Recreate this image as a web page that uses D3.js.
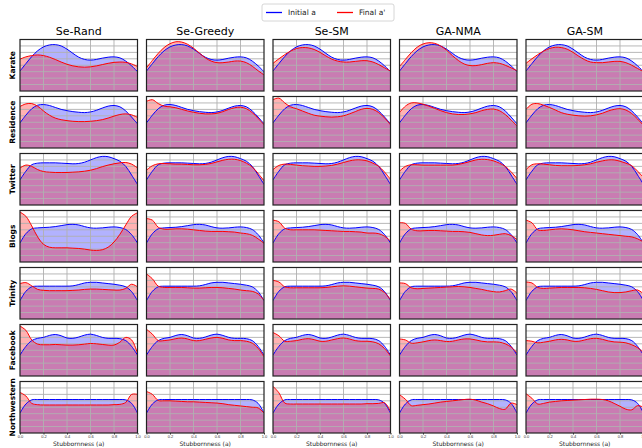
<!DOCTYPE html>
<html>
<head>
<meta charset="utf-8">
<script src="https://cdn.jsdelivr.net/npm/d3@7"></script>
<style>
  body { margin: 0; background: #fff; }
  svg { display: block; font-family: "DejaVu Sans", sans-serif; }
</style>
</head>
<body>
<div id="chart"></div>
<script>
// stubbornness grid the densities are sampled on
var xGrid = [0, 0.05, 0.1, 0.15, 0.2, 0.25, 0.3, 0.35, 0.4, 0.45, 0.5,
             0.55, 0.6, 0.65, 0.7, 0.75, 0.8, 0.85, 0.9, 0.95, 1.0];

var methods = ['Se-Rand', 'Se-Greedy', 'Se-SM', 'GA-NMA', 'GA-SM'];
var datasets = ['Karate', 'Residence', 'Twitter', 'Blogs', 'Trinity', 'Facebook', 'Northwestern'];
var xTicks = [0, 0.2, 0.4, 0.6, 0.8, 1.0];
var yGrid = [0.2, 0.4, 0.6, 0.8, 1.0, 1.2, 1.4];

// initial density per dataset
var karateInitial = [0.62, 0.85, 1.07, 1.25, 1.37, 1.43, 1.44, 1.4, 1.3, 1.17, 1.05, 0.98, 0.96, 0.98, 1.02, 1.05, 1.06, 1.03, 0.93, 0.78, 0.6];
var residenceInitial = [0.78, 1.02, 1.22, 1.33, 1.35, 1.32, 1.26, 1.2, 1.16, 1.13, 1.11, 1.1, 1.12, 1.17, 1.24, 1.3, 1.32, 1.28, 1.15, 0.96, 0.75];
var twitterInitial = [0.78, 1.05, 1.25, 1.3, 1.31, 1.31, 1.31, 1.3, 1.29, 1.28, 1.29, 1.33, 1.4, 1.47, 1.51, 1.5, 1.44, 1.36, 1.2, 0.93, 0.64];
var blogsInitial = [0.59, 0.88, 1.03, 1.06, 1.07, 1.08, 1.1, 1.13, 1.16, 1.17, 1.15, 1.1, 1.06, 1.05, 1.06, 1.08, 1.09, 1.07, 1.01, 0.85, 0.59];
var trinityInitial = [0.57, 0.86, 1.0, 1.02, 1.02, 1.02, 1.02, 1.02, 1.02, 1.03, 1.07, 1.12, 1.14, 1.14, 1.12, 1.1, 1.08, 1.05, 1.0, 0.85, 0.57];
var facebookInitial = [0.65, 0.92, 1.1, 1.17, 1.2, 1.26, 1.29, 1.25, 1.18, 1.17, 1.21, 1.27, 1.3, 1.26, 1.2, 1.17, 1.17, 1.16, 1.1, 0.92, 0.65];
var northwesternInitial = [0.62, 0.9, 1.03, 1.04, 1.04, 1.04, 1.04, 1.04, 1.04, 1.04, 1.04, 1.04, 1.04, 1.04, 1.04, 1.04, 1.04, 1.04, 1.03, 0.92, 0.62];

// final density per dataset, one list per method
var karateFinal = [
  [0.99, 1.06, 1.1, 1.12, 1.1, 1.05, 0.98, 0.9, 0.83, 0.78, 0.75, 0.74, 0.75, 0.78, 0.82, 0.86, 0.89, 0.9, 0.89, 0.84, 0.76],
  [0.72, 0.95, 1.17, 1.35, 1.47, 1.53, 1.52, 1.45, 1.33, 1.18, 1.03, 0.93, 0.88, 0.88, 0.9, 0.93, 0.93, 0.88, 0.77, 0.63, 0.5],
  [0.86, 1.0, 1.13, 1.24, 1.32, 1.35, 1.34, 1.29, 1.2, 1.09, 0.99, 0.93, 0.9, 0.9, 0.92, 0.94, 0.94, 0.9, 0.82, 0.72, 0.62],
  [0.76, 0.98, 1.19, 1.36, 1.46, 1.5, 1.48, 1.4, 1.27, 1.1, 0.95, 0.84, 0.79, 0.79, 0.82, 0.86, 0.88, 0.86, 0.8, 0.72, 0.63],
  [0.86, 1.0, 1.13, 1.24, 1.32, 1.36, 1.35, 1.3, 1.2, 1.08, 0.97, 0.9, 0.88, 0.88, 0.9, 0.92, 0.92, 0.88, 0.8, 0.7, 0.6]
];
var residenceFinal = [
  [1.29, 1.37, 1.38, 1.3, 1.15, 1.02, 0.93, 0.88, 0.85, 0.83, 0.82, 0.82, 0.83, 0.85, 0.88, 0.93, 0.99, 1.04, 1.06, 1.03, 0.95],
  [1.45, 1.5, 1.38, 1.3, 1.28, 1.25, 1.2, 1.15, 1.11, 1.08, 1.06, 1.06, 1.08, 1.13, 1.2, 1.25, 1.27, 1.22, 1.1, 0.92, 0.72],
  [1.5, 1.55, 1.4, 1.28, 1.22, 1.15, 1.08, 1.02, 0.99, 0.97, 0.96, 0.97, 1.0, 1.06, 1.13, 1.2, 1.23, 1.2, 1.1, 0.93, 0.72],
  [1.1, 1.3, 1.4, 1.4, 1.36, 1.3, 1.23, 1.16, 1.1, 1.06, 1.04, 1.04, 1.06, 1.1, 1.16, 1.2, 1.21, 1.16, 1.04, 0.87, 0.68],
  [1.2, 1.36, 1.38, 1.33, 1.26, 1.18, 1.1, 1.05, 1.02, 1.0, 0.99, 1.0, 1.03, 1.08, 1.15, 1.2, 1.22, 1.18, 1.07, 0.9, 0.7]
];
var twitterFinal = [
  [1.15, 1.24, 1.2, 1.1, 1.04, 1.02, 1.01, 1.01, 1.01, 1.02, 1.03, 1.05, 1.08, 1.13, 1.19, 1.24, 1.28, 1.31, 1.32, 1.27, 1.15],
  [1.08, 1.22, 1.28, 1.29, 1.28, 1.27, 1.27, 1.26, 1.25, 1.25, 1.26, 1.29, 1.34, 1.39, 1.42, 1.42, 1.38, 1.3, 1.18, 0.98, 0.75],
  [1.1, 1.23, 1.27, 1.26, 1.24, 1.22, 1.21, 1.2, 1.2, 1.21, 1.23, 1.27, 1.32, 1.37, 1.4, 1.4, 1.37, 1.3, 1.2, 1.02, 0.8],
  [1.05, 1.2, 1.25, 1.25, 1.24, 1.24, 1.24, 1.24, 1.24, 1.24, 1.26, 1.3, 1.35, 1.4, 1.42, 1.41, 1.37, 1.3, 1.2, 1.03, 0.82],
  [1.1, 1.25, 1.28, 1.27, 1.25, 1.23, 1.22, 1.22, 1.22, 1.23, 1.25, 1.28, 1.33, 1.37, 1.4, 1.4, 1.36, 1.3, 1.22, 1.05, 0.85]
];
var blogsFinal = [
  [1.55, 1.42, 1.12, 0.78, 0.55, 0.46, 0.44, 0.44, 0.44, 0.43, 0.42, 0.4, 0.37, 0.36, 0.38, 0.46, 0.62, 0.86, 1.15, 1.42, 1.53],
  [1.35, 1.3, 1.08, 1.02, 1.02, 1.03, 1.03, 1.02, 1.0, 0.98, 0.96, 0.95, 0.95, 0.95, 0.94, 0.93, 0.9, 0.88, 0.83, 0.72, 0.58],
  [1.3, 1.25, 1.05, 1.0, 1.0, 1.0, 1.0, 1.0, 0.99, 0.98, 0.97, 0.96, 0.95, 0.95, 0.94, 0.93, 0.9, 0.9, 0.88, 0.8, 0.65],
  [1.22, 1.2, 1.02, 0.97, 0.97, 0.98, 0.98, 0.97, 0.96, 0.95, 0.95, 0.94, 0.92, 0.88, 0.84, 0.82, 0.83, 0.86, 0.88, 0.82, 0.7],
  [1.3, 1.22, 1.0, 0.98, 1.0, 1.02, 1.03, 1.02, 1.0, 0.97, 0.94, 0.92, 0.9, 0.88, 0.86, 0.84, 0.82, 0.8, 0.78, 0.72, 0.62]
];
var trinityFinal = [
  [1.1, 1.13, 1.03, 0.92, 0.89, 0.88, 0.88, 0.88, 0.88, 0.89, 0.9, 0.92, 0.93, 0.93, 0.92, 0.91, 0.9, 0.9, 0.95, 1.08, 1.0],
  [1.4, 1.25, 1.02, 0.98, 0.98, 0.98, 0.98, 0.97, 0.96, 0.96, 0.97, 0.98, 0.98, 0.97, 0.95, 0.93, 0.9, 0.88, 0.86, 0.78, 0.58],
  [1.2, 1.15, 1.0, 0.97, 0.97, 0.97, 0.97, 0.97, 0.97, 0.98, 1.0, 1.02, 1.03, 1.02, 1.0, 0.98, 0.96, 0.95, 0.93, 0.82, 0.6],
  [1.12, 1.1, 0.97, 0.94, 0.95, 0.96, 0.97, 0.98, 0.99, 1.0, 1.01, 1.0, 0.98, 0.95, 0.92, 0.88, 0.85, 0.84, 0.88, 0.93, 0.8],
  [1.15, 1.12, 0.98, 0.95, 0.96, 0.97, 0.98, 0.98, 0.98, 0.98, 0.97, 0.95, 0.92, 0.88, 0.84, 0.82, 0.82, 0.84, 0.88, 0.9, 0.78]
];
var facebookFinal = [
  [1.55, 1.42, 1.12, 0.99, 0.97, 0.97, 0.98, 0.97, 0.96, 0.96, 0.97, 0.99, 1.01, 1.0, 0.98, 0.96, 0.96, 1.05, 1.2, 1.12, 0.7],
  [1.45, 1.3, 1.1, 1.1, 1.12, 1.16, 1.18, 1.15, 1.1, 1.1, 1.14, 1.18, 1.2, 1.17, 1.12, 1.1, 1.1, 1.08, 1.02, 0.86, 0.6],
  [1.35, 1.25, 1.08, 1.08, 1.1, 1.14, 1.16, 1.13, 1.08, 1.08, 1.12, 1.16, 1.18, 1.15, 1.1, 1.08, 1.08, 1.06, 1.0, 0.85, 0.62],
  [1.15, 1.12, 1.02, 1.03, 1.06, 1.1, 1.12, 1.1, 1.07, 1.08, 1.12, 1.15, 1.15, 1.12, 1.08, 1.06, 1.06, 1.05, 1.0, 0.9, 0.72],
  [1.1, 1.08, 1.03, 1.05, 1.08, 1.12, 1.14, 1.12, 1.08, 1.08, 1.12, 1.16, 1.17, 1.14, 1.09, 1.06, 1.05, 1.03, 0.97, 0.88, 0.72]
];
var northwesternFinal = [
  [1.26, 1.15, 0.92, 0.88, 0.87, 0.87, 0.87, 0.87, 0.87, 0.87, 0.87, 0.87, 0.87, 0.87, 0.87, 0.87, 0.88, 0.89, 0.95, 1.2, 1.2],
  [1.29, 1.2, 1.01, 1.0, 1.0, 0.99, 0.98, 0.97, 0.97, 0.96, 0.95, 0.94, 0.93, 0.91, 0.88, 0.86, 0.84, 0.82, 0.8, 0.78, 0.62],
  [1.45, 1.25, 0.93, 0.9, 0.9, 0.9, 0.9, 0.9, 0.9, 0.9, 0.9, 0.9, 0.9, 0.9, 0.9, 0.9, 0.91, 0.91, 0.92, 0.94, 0.67],
  [1.19, 1.05, 0.85, 0.86, 0.88, 0.9, 0.93, 0.96, 0.98, 1.0, 1.02, 1.04, 1.05, 1.02, 0.96, 0.91, 0.84, 0.76, 0.74, 0.93, 0.88],
  [1.22, 1.08, 0.9, 0.92, 0.96, 0.98, 1.0, 1.01, 1.02, 1.03, 1.04, 1.05, 1.05, 1.04, 1.0, 0.92, 0.83, 0.74, 0.72, 0.85, 0.8]
];

var rows = [
  {name: 'Karate', initial: karateInitial, final: karateFinal},
  {name: 'Residence', initial: residenceInitial, final: residenceFinal},
  {name: 'Twitter', initial: twitterInitial, final: twitterFinal},
  {name: 'Blogs', initial: blogsInitial, final: blogsFinal},
  {name: 'Trinity', initial: trinityInitial, final: trinityFinal},
  {name: 'Facebook', initial: facebookInitial, final: facebookFinal},
  {name: 'Northwestern', initial: northwesternInitial, final: northwesternFinal}
];

var width = 642, height = 448;
var left0 = 20, colStep = 126.5, panelW = 117.5;
var top0 = 39.5, rowStep = 57, panelH = 51.5;

var svg = d3.select('#chart').append('svg')
    .attr('width', width)
    .attr('height', height);

var x = d3.scaleLinear().domain([0, 1]).range([0, panelW]);
var y = d3.scaleLinear().domain([0, 1.6]).range([panelH, 0]);

var area = d3.area()
    .x(function(d){ return x(d[0]); })
    .y0(y(0))
    .y1(function(d){ return y(d[1]); })
    .curve(d3.curveCatmullRom);

var line = d3.line()
    .x(function(d){ return x(d[0]); })
    .y(function(d){ return y(d[1]); })
    .curve(d3.curveCatmullRom);

function pairs(vals){
  return xGrid.map(function(v, i){ return [v, vals[i]]; });
}

svg.append('defs').append('clipPath')
    .attr('id', 'panel_clip')
  .append('rect')
    .attr('width', panelW)
    .attr('height', panelH);

// column titles
svg.selectAll('.col_title')
    .data(methods)
  .enter().append('text')
    .attr('class', 'col_title')
    .attr('x', function(d, i){ return left0 + i * colStep + panelW / 2; })
    .attr('y', 35)
    .attr('text-anchor', 'middle')
    .style('font-size', '11px')
    .text(function(d){ return d; });

rows.forEach(function(row, r){

  var ty = top0 + r * rowStep;

  // row label
  svg.append('text')
      .attr('transform', 'translate(' + 14.5 + ',' + (ty + panelH / 2) + ') rotate(-90)')
      .attr('text-anchor', 'middle')
      .style('font-size', '7.5px')
      .style('font-weight', 'bold')
      .text(row.name);

  methods.forEach(function(m, c){

    var tx = left0 + c * colStep;
    var g = svg.append('g')
        .attr('transform', 'translate(' + tx + ',' + ty + ')');

    var inner = g.append('g').attr('clip-path', 'url(#panel_clip)');

    var ini = pairs(row.initial);
    var fin = pairs(row.final[c]);

    inner.append('path')
        .attr('d', area(ini))
        .attr('fill', 'blue')
        .attr('fill-opacity', 0.3);
    inner.append('path')
        .attr('d', area(fin))
        .attr('fill', 'red')
        .attr('fill-opacity', 0.3);

    // grid sits over the fill
    inner.selectAll('.vgrid')
        .data(xTicks.slice(1, -1))
      .enter().append('line')
        .attr('x1', function(d){ return x(d); })
        .attr('x2', function(d){ return x(d); })
        .attr('y1', 0)
        .attr('y2', panelH)
        .attr('stroke', '#b0b0b0')
        .attr('stroke-opacity', 0.9)
        .attr('stroke-width', 1);
    inner.selectAll('.hgrid')
        .data(yGrid)
      .enter().append('line')
        .attr('x1', 0)
        .attr('x2', panelW)
        .attr('y1', function(d){ return y(d); })
        .attr('y2', function(d){ return y(d); })
        .attr('stroke', '#b0b0b0')
        .attr('stroke-opacity', 0.9)
        .attr('stroke-width', 1);

    inner.append('path')
        .attr('d', line(ini))
        .attr('fill', 'none')
        .attr('stroke', 'blue')
        .attr('stroke-width', 1);
    inner.append('path')
        .attr('d', line(fin))
        .attr('fill', 'none')
        .attr('stroke', 'red')
        .attr('stroke-width', 1);

    g.append('rect')
        .attr('width', panelW)
        .attr('height', panelH)
        .attr('fill', 'none')
        .attr('stroke', '#222')
        .attr('stroke-width', 1.2);

    if (r === rows.length - 1){
      var ax = g.append('g')
          .attr('transform', 'translate(0,' + panelH + ')')
          .call(d3.axisBottom(x).tickValues(xTicks).tickFormat(d3.format('.1f')).tickSize(1.5).tickPadding(1));
      ax.select('.domain').remove();
      ax.selectAll('text').style('font-size', '4px').attr('fill', '#333');
      ax.selectAll('line').attr('stroke', '#333');

      g.append('text')
          .attr('x', panelW / 2)
          .attr('y', panelH + 12.5)
          .attr('text-anchor', 'middle')
          .style('font-size', '6px')
          .attr('fill', '#222')
          .text('Stubbornness (a)');
    }
  });
});

// legend
var legend = svg.append('g').attr('transform', 'translate(262,4)');
legend.append('rect')
    .attr('width', 132)
    .attr('height', 17)
    .attr('rx', 2)
    .attr('fill', '#fff')
    .attr('stroke', '#ccc')
    .attr('stroke-width', 0.8);
var legend_items = [{label: 'Initial a', color: 'blue', dx: 4}, {label: "Final a'", color: 'red', dx: 75}];
legend_items.forEach(function(item){
  legend.append('line')
      .attr('x1', item.dx)
      .attr('x2', item.dx + 16)
      .attr('y1', 8.5)
      .attr('y2', 8.5)
      .attr('stroke', item.color)
      .attr('stroke-width', 1.3);
  legend.append('text')
      .attr('x', item.dx + 22)
      .attr('y', 11.2)
      .style('font-size', '7.5px')
      .attr('fill', '#222')
      .text(item.label);
});
</script>
</body>
</html>
